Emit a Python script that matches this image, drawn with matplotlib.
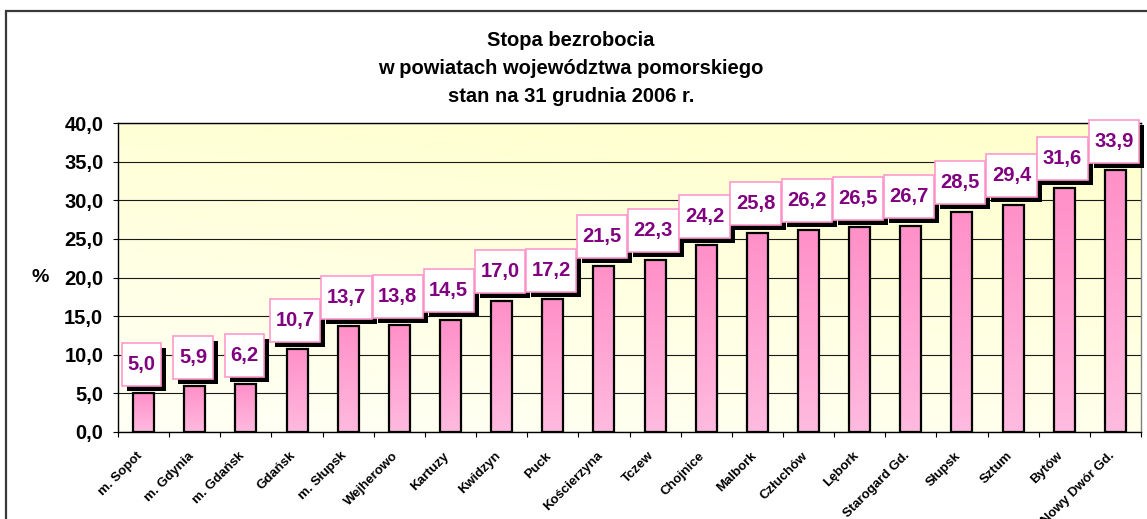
import numpy as np
import matplotlib
matplotlib.use('Agg')
import matplotlib.pyplot as plt
from matplotlib.patches import Rectangle
import matplotlib.transforms as mtransforms

# ---------------- data ----------------
categories = ["m. Sopot", "m. Gdynia", "m. Gdańsk", "Gdańsk", "m. Słupsk",
              "Wejherowo", "Kartuzy", "Kwidzyn", "Puck", "Kościerzyna",
              "Tczew", "Chojnice", "Malbork", "Człuchów", "Lębork",
              "Starogard Gd.", "Słupsk", "Sztum", "Bytów", "Nowy Dwór Gd."]
values = [5.0, 5.9, 6.2, 10.7, 13.7, 13.8, 14.5, 17.0, 17.2, 21.5,
          22.3, 24.2, 25.8, 26.2, 26.5, 26.7, 28.5, 29.4, 31.6, 33.9]
y_ticks = [0, 5, 10, 15, 20, 25, 30, 35, 40]
title_lines = ["Stopa bezrobocia",
               "w powiatach województwa pomorskiego",
               "stan na 31 grudnia 2006 r."]
y_label = "%"


def fmt(v):
    return f"{v:.1f}".replace(".", ",")


plt.rcParams['font.family'] = ['Liberation Sans', 'DejaVu Sans']

W, H = 1147, 519
fig = plt.figure(figsize=(W / 100, H / 100), dpi=100)
fig.patch.set_facecolor('white')
L, R, T, B = 118, 1141, 123, 432
ax = fig.add_axes([L / W, (H - B) / H, (R - L) / W, (B - T) / H])

# outer chart border (cut off on right and bottom)
fig.add_artist(Rectangle((6 / W, -0.1), 1.2, (H - 11) / H + 0.1,
                         transform=fig.transFigure, fill=False,
                         ec='#3a3a3a', lw=1.6, clip_on=False))

# plot-area gradient background
ny, nx = 100, 100
yy, xx = np.mgrid[0:1:ny * 1j, 0:1:nx * 1j]
t = np.clip(0.75 * yy + 0.25 * xx, 0, 1)
c_top = np.array([255, 255, 203]) / 255
c_bot = np.array([255, 255, 246]) / 255
bg = c_bot + (c_top - c_bot) * t[..., None]
ax.patch.set_visible(False)
ax.imshow(bg, extent=[0, 1, 0, 1], transform=ax.transAxes, origin='lower',
          aspect='auto', zorder=0, interpolation='bilinear')

# bars
x = np.arange(len(categories))
bars = ax.bar(x, values, width=0.41, color='none', edgecolor='black',
              linewidth=1.6, zorder=3)
grad = np.linspace(0, 1, 64)[:, None]
b_bot = np.array([255, 186, 223]) / 255
b_top = np.array([255, 144, 200]) / 255
gimg = b_bot + (b_top - b_bot) * grad[..., None]
for b in bars:
    im = ax.imshow(gimg, extent=[b.get_x(), b.get_x() + b.get_width(), 0, b.get_height()],
                   origin='lower', aspect='auto', zorder=2, interpolation='bilinear')
    im.set_clip_path(b)

ax.set_xlim(-0.5, len(categories) - 0.5)
ax.set_ylim(0, 40)

# grid & y axis
ax.set_axisbelow(True)
ax.yaxis.grid(True, color='#1a1a1a', lw=0.8)
ax.set_yticks(y_ticks)
ax.set_yticklabels([fmt(v) for v in y_ticks], fontsize=14.5, fontweight='bold')
ax.tick_params(axis='y', direction='out', length=3.6, width=0.8, pad=7)

# x axis: ticks at category boundaries, labels at centers
ax.set_xticks(x)
ax.set_xticklabels([])
ax.tick_params(axis='x', which='major', length=0)
ax.set_xticks(np.arange(-0.5, len(categories), 1), minor=True)
ax.tick_params(axis='x', which='minor', direction='out', length=3.6, width=0.8)

for s in ['left', 'bottom', 'top']:
    ax.spines[s].set_color('black')
    ax.spines[s].set_linewidth(1.0)
ax.spines['right'].set_color('#808080')
ax.spines['right'].set_linewidth(1.0)

blend = mtransforms.blended_transform_factory(ax.transData, ax.transAxes)
off = mtransforms.ScaledTranslation(-3 / 100, -22 / 100, fig.dpi_scale_trans)
for xi, name in zip(x, categories):
    ax.text(xi, 0, name, transform=blend + off, rotation=45,
            rotation_mode='anchor', ha='right', va='center',
            fontsize=9.5, fontweight='bold', clip_on=False)

# title and y label
for i, line in enumerate(title_lines):
    fig.text(571 / W, 1 - (40 + 28.5 * i) / H, line, ha='center', va='center',
             fontsize=14.5, fontweight='bold')
fig.text(40 / W, 1 - 278 / H, y_label, ha='center', va='center',
         fontsize=14, fontweight='bold')

# value labels with boxes and drop shadows
GAP, BOX_H, BASE, PAD, SH = 7.5, 43, 16, 5.5, 5
texts = []
for xi, v in zip(x, values):
    txt = ax.annotate(fmt(v), (xi, v), xytext=(-1.7, GAP + BASE), textcoords='offset pixels',
                      ha='center', va='baseline', fontsize=14.5, fontweight='bold',
                      color='#800080', zorder=7, annotation_clip=False)
    texts.append(txt)

fig.canvas.draw()
renderer = fig.canvas.get_renderer()
inv = ax.transData.inverted()
for xi, v, txt in zip(x, values, texts):
    bb = txt.get_window_extent(renderer)
    top_y = ax.transData.transform((xi, v))[1]
    bx0, bx1 = bb.x0 - PAD, bb.x1 + PAD
    by0 = top_y + GAP
    by1 = by0 + BOX_H
    # shadow
    (sx0, sy0) = inv.transform((bx0 + SH, by0 - SH))
    (sx1, sy1) = inv.transform((bx1 + SH, by1 - SH))
    ax.add_patch(Rectangle((sx0, sy0), sx1 - sx0, sy1 - sy0, fc='black', ec='none',
                           zorder=5, clip_on=False))
    (px0, py0) = inv.transform((bx0, by0))
    (px1, py1) = inv.transform((bx1, by1))
    ax.add_patch(Rectangle((px0, py0), px1 - px0, py1 - py0, fc='white', ec='#FF99CC',
                           lw=1.2, zorder=6, clip_on=False))

fig.savefig('out.png', dpi=100)
